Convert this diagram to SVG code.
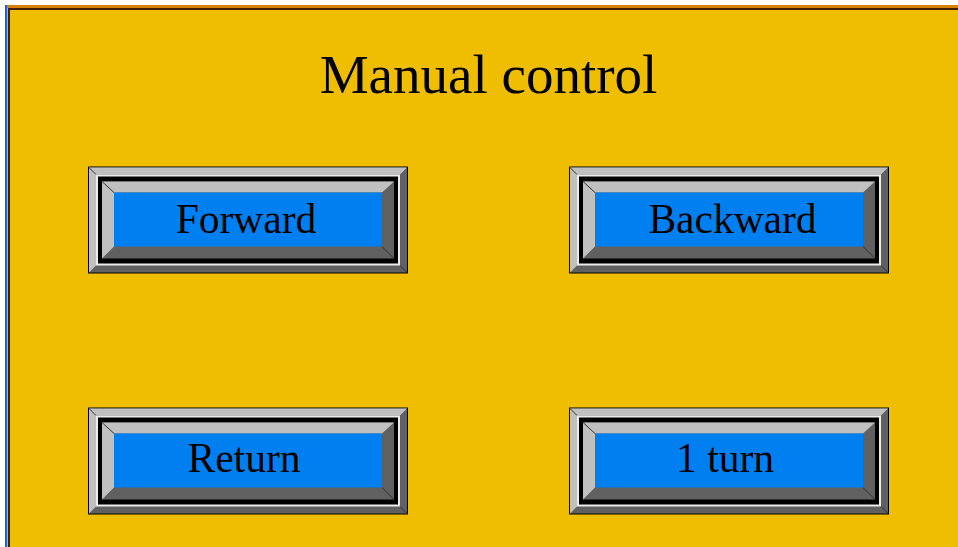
<svg xmlns="http://www.w3.org/2000/svg" width="958" height="547" viewBox="0 0 958 547">
  <defs>
    <style>
      .txt { font-family: "Liberation Serif", "Times New Roman", serif; fill: #000; text-anchor: middle; }
      .title { font-size: 55px; }
      .lbl { font-size: 41.5px; }
      .blk { fill: #000; }
      .lt { fill: #c0c0c0; }
      .dk { fill: #606060; }
      .wh { fill: #ececec; }
      .face { fill: #0080f0; }
      .joint { stroke: #303030; stroke-width: 1; }
    </style>
    <g id="btn">
      <rect class="blk" x="0" y="0" width="320" height="107"/>
      <rect class="dk" x="1" y="1" width="318" height="105"/>
      <polygon class="lt" points="1,1 319,1 312,8 8,8 8,99 1,106"/>
      <line class="joint" x1="1" y1="1" x2="8" y2="8"/>
      <line class="joint" x1="319" y1="106" x2="312" y2="99"/>
      <rect class="wh" x="8" y="8" width="304" height="91"/>
      <rect class="blk" x="10" y="10" width="300" height="87"/>
      <rect class="dk" x="14" y="15" width="292" height="77"/>
      <polygon class="lt" points="14,15 306,15 294,26 26,26 26,80 14,92"/>
      <line class="joint" x1="14" y1="15" x2="26" y2="26"/>
      <line class="joint" x1="306" y1="92" x2="294" y2="80"/>
      <rect class="face" x="26" y="26" width="268" height="54"/>
    </g>
  </defs>
  <rect x="0" y="0" width="958" height="547" fill="#ffffff"/>
  <g id="panel">
    <rect x="5" y="5" width="953" height="542" fill="#f0be00"/>
    <rect x="7" y="5" width="951" height="3" fill="#d88000"/>
    <rect x="5" y="5" width="2" height="542" fill="#2060e0"/>
    <rect x="8" y="8" width="950" height="2" fill="#402000"/>
    <rect x="8" y="8" width="2" height="539" fill="#402000"/>
  </g>
  <g id="title">
    <text class="txt title" x="488.5" y="93">Manual control</text>
  </g>
  <g id="btn-forward">
    <use href="#btn" x="88" y="166.5"/>
    <text class="txt lbl" x="246" y="233">Forward</text>
  </g>
  <g id="btn-backward">
    <use href="#btn" x="569" y="166.5"/>
    <text class="txt lbl" x="732.5" y="233">Backward</text>
  </g>
  <g id="btn-return">
    <use href="#btn" x="88" y="407.5"/>
    <text class="txt lbl" x="244" y="472">Return</text>
  </g>
  <g id="btn-1turn">
    <use href="#btn" x="569" y="407.5"/>
    <text class="txt lbl" x="725" y="472">1 turn</text>
  </g>
  <g id="connectors"/>
</svg>
